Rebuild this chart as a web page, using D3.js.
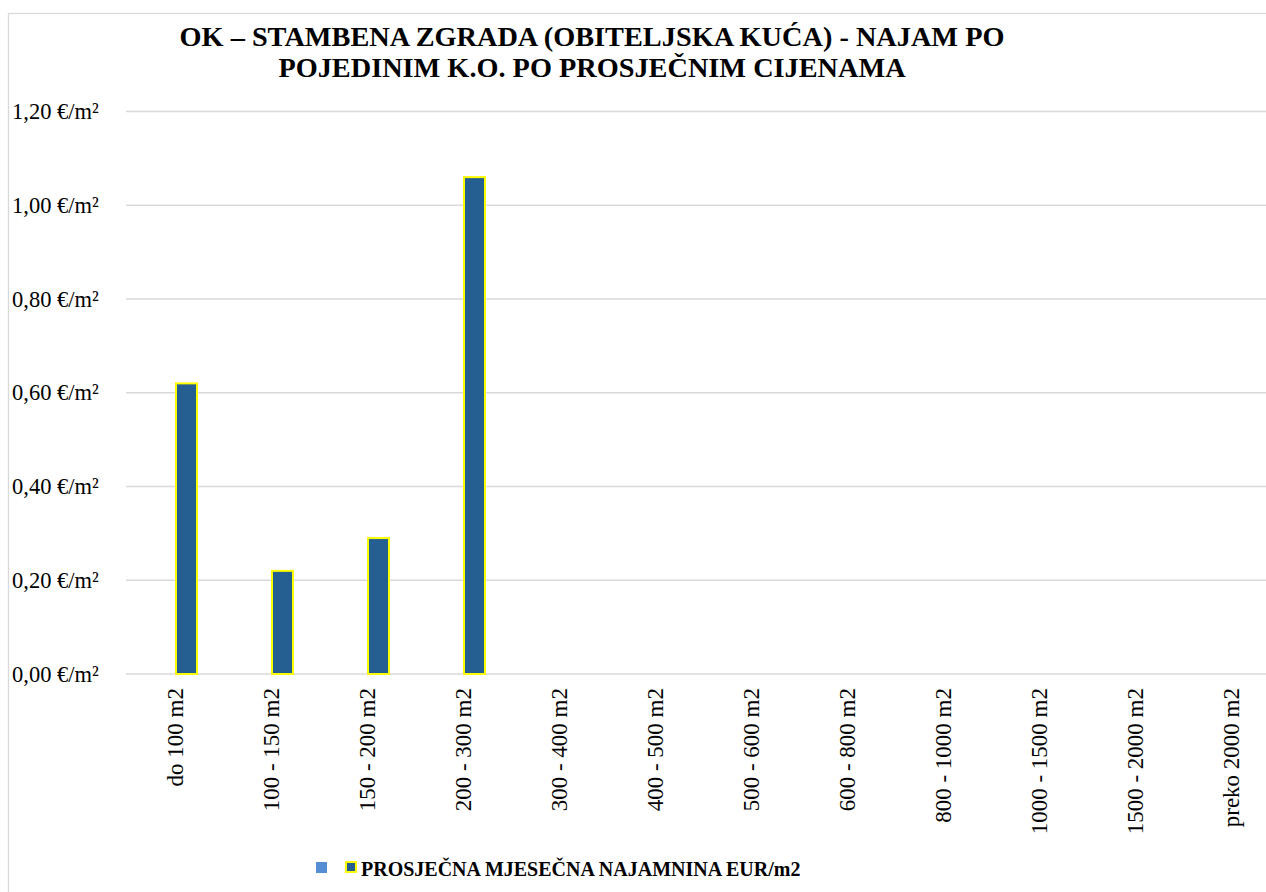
<!DOCTYPE html>
<html>
<head lang="hr">
    <meta charset="UTF-8">
    <title>Najam po prosječnim cijenama</title>
    <script src="https://cdn.jsdelivr.net/npm/d3@7"></script>
    <style>
        body { margin: 0; background: #fff; }
        svg { display: block; }
        text { fill: #000; }
    </style>
</head>
<body>

<script>

    var categories = ["do 100 m2", "100 - 150 m2", "150 - 200 m2", "200 - 300 m2", "300 - 400 m2",
        "400 - 500 m2", "500 - 600 m2", "600 - 800 m2", "800 - 1000 m2", "1000 - 1500 m2",
        "1500 - 2000 m2", "preko 2000 m2"];

    // first series has no values, only its legend marker shows
    var seriesEmpty = [null, null, null, null, null, null, null, null, null, null, null, null];
    var seriesRent = [0.62, 0.22, 0.29, 1.06, null, null, null, null, null, null, null, null];

    var yTicks = [0, 0.2, 0.4, 0.6, 0.8, 1.0, 1.2];
    var titleLines = ["OK – STAMBENA ZGRADA (OBITELJSKA KUĆA) - NAJAM PO", "POJEDINIM K.O. PO PROSJEČNIM CIJENAMA"];
    var legendLabel = "PROSJEČNA MJESEČNA NAJAMNINA EUR/m2";

    var W = 1266, H = 892;
    var plotLeft = 127, plotRight = 1279, plotTop = 111.5, plotBottom = 674;
    var serif = "'Liberation Serif', 'Times New Roman', serif";

    var svg = d3.select("body").append("svg")
            .attr("width", W)
            .attr("height", H);

    // chart frame
    svg.append("rect")
            .attr("x", 8.5).attr("y", 13.5)
            .attr("width", W + 20).attr("height", H + 20)
            .attr("fill", "none")
            .attr("stroke", "#d9d9d9")
            .attr("stroke-width", 1.3);

    var y = d3.scaleLinear().domain([0, 1.2]).range([plotBottom, plotTop]);
    var x0 = d3.scaleBand().domain(categories).range([plotLeft, plotRight]);
    var groupW = 46;
    var x1 = d3.scaleBand().domain(["a", "b"]).range([0, groupW]);

    var fmt = function(v){ return d3.format(".2f")(v).replace(".", ",") + " €/m²"; };

    // grid lines
    svg.append("g").selectAll("line")
            .data(yTicks)
            .enter()
            .append("line")
            .attr("x1", plotLeft - 1).attr("x2", W)
            .attr("y1", function(d){ return y(d); })
            .attr("y2", function(d){ return y(d); })
            .attr("stroke", "#d9d9d9")
            .attr("stroke-width", 1.5);

    // y labels
    svg.append("g").selectAll("text")
            .data(yTicks)
            .enter()
            .append("text")
            .attr("x", 12)
            .attr("y", function(d){ return y(d) + 7.5; })
            .attr("font-family", serif)
            .attr("font-size", 22.5)
            .text(fmt);

    var rows = categories.map(function(c, i){ return {cat: c, a: seriesEmpty[i], b: seriesRent[i]}; });

    var groups = svg.append("g").selectAll("g")
            .data(rows)
            .enter()
            .append("g")
            .attr("transform", function(d){ return "translate(" + (x0(d.cat) + (x0.bandwidth() - groupW) / 2) + ",0)"; });

    groups.filter(function(d){ return d.b != null; })
            .append("rect")
            .attr("x", x1("b") + 1)
            .attr("width", x1.bandwidth() - 2)
            .attr("y", function(d){ return y(d.b); })
            .attr("height", function(d){ return plotBottom - y(d.b); })
            .attr("fill", "#255e91")
            .attr("stroke", "#ffff00")
            .attr("stroke-width", 2);

    // x labels, rotated
    svg.append("g").selectAll("text")
            .data(categories)
            .enter()
            .append("text")
            .attr("transform", function(d){
                return "translate(" + (x0(d) + x0.bandwidth() / 2 + 8) + "," + 688 + ") rotate(-90)";
            })
            .attr("text-anchor", "end")
            .attr("font-family", serif)
            .attr("font-size", 23)
            .text(function(d){ return d; });

    // title
    svg.append("g").selectAll("text")
            .data(titleLines)
            .enter()
            .append("text")
            .attr("x", 592)
            .attr("y", function(d, i){ return 46 + i * 31; })
            .attr("text-anchor", "middle")
            .attr("font-family", serif)
            .attr("font-size", 28.3)
            .attr("font-weight", 700)
            .text(function(d){ return d; });

    // legend
    var lg = svg.append("g");
    lg.append("rect")
            .attr("x", 316).attr("y", 862)
            .attr("width", 11).attr("height", 11)
            .attr("fill", "#558ed5");
    lg.append("rect")
            .attr("x", 346).attr("y", 862)
            .attr("width", 10).attr("height", 10)
            .attr("fill", "#255e91")
            .attr("stroke", "#ffff00")
            .attr("stroke-width", 2);
    lg.append("text")
            .attr("x", 361).attr("y", 876)
            .attr("font-family", serif)
            .attr("font-size", 20)
            .attr("font-weight", 700)
            .text(legendLabel);

</script>
</body>
</html>
